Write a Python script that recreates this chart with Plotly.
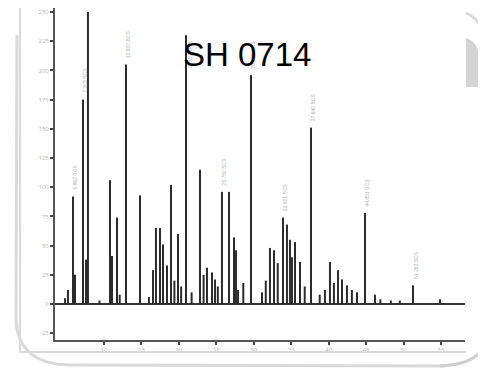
import plotly.graph_objects as go

# ---- data (retention time in minutes, peak height in response units) ----
peak_rt = [5.19, 5.86, 6.13, 7.20, 7.60, 7.86, 10.80, 11.07, 11.74, 12.94,
           14.81, 16.54, 16.94, 17.48, 17.88, 18.41, 18.95, 19.88, 20.95, 22.82,
           23.75, 24.42, 24.82, 25.75, 26.69, 27.36, 27.62, 29.63, 32.16, 32.70,
           33.90, 34.43, 34.83, 35.50, 36.17, 37.64, 40.17, 41.24, 41.78, 42.44,
           43.78, 44.85, 46.18, 51.26, 54.86,
           4.80, 9.40, 12.10, 16.00, 19.40, 20.30, 21.70, 23.30, 25.20, 27.90,
           28.60, 31.10, 31.60, 33.20, 35.10, 36.80, 38.80, 39.50, 40.70, 43.10,
           46.90, 48.30, 49.50]
peak_height = [12, 92, 25, 175, 38, 250, 106, 41, 74, 205,
               93, 29, 65, 65, 51, 33, 102, 60, 230, 115,
               31, 27, 21, 96, 96, 57, 46, 196, 48, 46,
               74, 68, 55, 53, 36, 151, 36, 29, 21, 16,
               10, 78, 8, 16, 4,
               5, 3, 8, 6, 20, 15, 10, 25, 15, 12,
               18, 10, 20, 35, 40, 15, 8, 12, 18, 12,
               4, 3, 3]

label_rt = [5.86, 7.20, 12.94, 20.95, 25.75, 29.63, 33.90, 37.64, 44.85, 51.26]
label_text = ["5.862 BCS", "7.203 BCS", "12.937 BCS", "20.953 BCS", "25.750 BCS",
              "29.632 BCS", "33.901 BCS", "37.640 BCS", "44.851 BCS", "51.263 BCS"]

x_ticks = [10, 15, 20, 25, 30, 35, 40, 45, 50, 55]
y_ticks = [-25, 0, 25, 50, 75, 100, 125, 150, 175, 200, 225, 250]

title_text = "SH 0714"

# ---- build the peak sticks from the data ----
xs, ys = [], []
for rt, h in zip(peak_rt, peak_height):
    xs += [rt, rt, None]
    ys += [0, h, None]

fig = go.Figure()
fig.add_trace(go.Scatter(x=xs, y=ys, mode="lines", xaxis="x", yaxis="y",
                         line=dict(color="#2b2b2b", width=2),
                         hoverinfo="skip", showlegend=False))

# peak labels (rotated, faint)
h_lookup = dict(zip(peak_rt, peak_height))
for rt, txt in zip(label_rt, label_text):
    h = h_lookup[rt]
    if h > 215:   # too close to the top: put the label beside the peak, below its apex
        fig.add_annotation(x=rt + 0.55, y=h - 2, text=txt, textangle=-90,
                           xref="x", yref="y", showarrow=False,
                           xanchor="center", yanchor="top",
                           font=dict(size=5, color="#b0b0b0", family="Liberation Sans"))
    else:
        fig.add_annotation(x=rt + 0.3, y=h + 4, text=txt, textangle=-90,
                           xref="x", yref="y", showarrow=False,
                           xanchor="center", yanchor="bottom",
                           font=dict(size=5, color="#b0b0b0", family="Liberation Sans"))

# ---- page geometry (the page body adds an 8px offset, compensate) ----
OFF = 8
PW, PH = 486, 368             # window size
FW, FH = PW - OFF, PH - OFF   # figure size
L, R, T, B = 55, 465, OFF, 340  # plot area in window pixels

# ---- frame decoration drawn on a full-figure pixel overlay (x2/y2) ----
deco = "#d9d9d9"
shapes = [
    dict(type="path", xref="x2", yref="y2", path="M 20,0 L 20,352 L 466,352",
         line=dict(color=deco, width=2), layer="below"),
    dict(type="path", xref="x2", yref="y2",
         path="M 17,35 L 16,320 Q 18,364 70,365 L 445,366",
         line=dict(color=deco, width=3), layer="below"),
    dict(type="path", xref="x2", yref="y2", path="M 440,366 Q 482,364 488,338",
         line=dict(color="#cfcfcf", width=3), layer="below"),
    dict(type="path", xref="x2", yref="y2", path="M 466,13 Q 482,20 488,42",
         line=dict(color=deco, width=3), layer="below"),
    dict(type="path", xref="x2", yref="y2",
         path="M 466,87 L 466,38 Q 474,40 478,50 L 478,87 Z",
         fillcolor="#d4d4d4", line=dict(width=0), layer="below"),
]
fig.update_layout(shapes=shapes)

fig.add_annotation(x=247, y=54, xref="x2", yref="y2", text=title_text,
                   showarrow=False, xanchor="center", yanchor="middle",
                   font=dict(size=33, color="#000000", family="Liberation Sans, Arial"))

# y scale: value 0 at window y=304, 25 units per 29.2 px
ppu = 29.2 / 25
y_top = (304 - T) / ppu
y_bot = (304 - B) / ppu

fig.update_layout(
    width=FW, height=FH,
    margin=dict(l=0, r=0, t=0, b=0, pad=0),
    paper_bgcolor="white", plot_bgcolor="rgba(0,0,0,0)",
    xaxis=dict(domain=[(L - OFF) / FW, (R - OFF) / FW], anchor="y",
               range=[3.46, 58.2], tickvals=x_ticks, ticktext=[str(v) for v in x_ticks],
               showgrid=False, zeroline=False, showline=True, linecolor="#555555",
               linewidth=2, ticks="outside", ticklen=3, tickwidth=2, tickcolor="#444444",
               tickfont=dict(size=6, color="#b5b5b5"), fixedrange=True, automargin=False),
    yaxis=dict(domain=[(PH - B) / FH, 1 - (T - OFF) / FH], anchor="x",
               range=[y_bot, y_top], tickvals=y_ticks, ticktext=[str(v) for v in y_ticks],
               showgrid=False, zeroline=True, zerolinecolor="#333333", zerolinewidth=1.6,
               showline=True, linecolor="#555555", linewidth=2,
               ticks="outside", ticklen=3, tickwidth=2, tickcolor="#444444",
               tickfont=dict(size=6, color="#b5b5b5"), fixedrange=True, automargin=False),
    xaxis2=dict(domain=[0, 1], anchor="y2", range=[OFF, PW], visible=False, fixedrange=True),
    yaxis2=dict(domain=[0, 1], anchor="x2", range=[PH, OFF], visible=False, fixedrange=True),
    showlegend=False,
)
# an empty trace so the overlay subplot exists
fig.add_trace(go.Scatter(x=[None], y=[None], xaxis="x2", yaxis="y2",
                         mode="lines", hoverinfo="skip", showlegend=False))

fig.write_html("out.html")
